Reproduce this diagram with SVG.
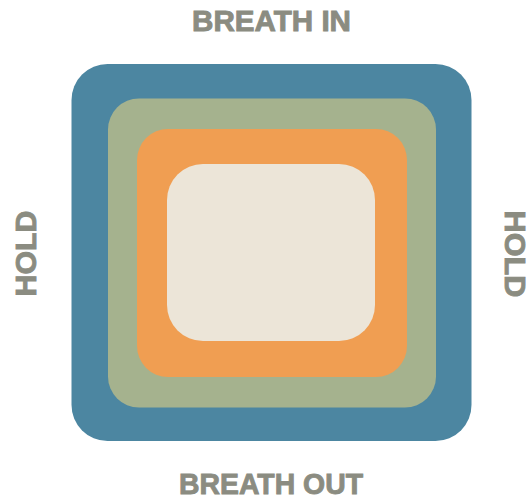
<svg xmlns="http://www.w3.org/2000/svg" width="530" height="499" viewBox="0 0 530 499">
<style>
.lbl{font-family:"Liberation Sans",Arial,sans-serif;font-weight:bold;font-size:29px;fill:#8b8c81;stroke:#8b8c81;stroke-width:0.9;text-anchor:middle}
</style>
<rect width="530" height="499" fill="#ffffff"/>
<g id="outer"><rect x="71.5" y="64" width="400" height="377" rx="36" fill="#4c86a1"/></g>
<g id="middle"><rect x="108" y="98.5" width="328" height="309" rx="31" fill="#a5b28e"/></g>
<g id="inner"><rect x="137" y="129" width="270" height="248" rx="31" fill="#f09e52"/></g>
<g id="core"><rect x="167" y="164" width="208" height="177" rx="36" fill="#ece5d8"/></g>
<g id="breath-in"><text class="lbl" x="271.5" y="30.5" textLength="159" lengthAdjust="spacingAndGlyphs">BREATH IN</text></g>
<g id="breath-out"><text class="lbl" x="271" y="493.5" textLength="184" lengthAdjust="spacingAndGlyphs">BREATH OUT</text></g>
<g id="hold-left"><text class="lbl" transform="translate(35.5,253.5) rotate(-90)" x="0" y="0" textLength="86" lengthAdjust="spacingAndGlyphs">HOLD</text></g>
<g id="hold-right"><text class="lbl" transform="translate(504.5,254) rotate(90)" x="0" y="0" textLength="87" lengthAdjust="spacingAndGlyphs">HOLD</text></g>
<g id="connectors"></g>
</svg>
